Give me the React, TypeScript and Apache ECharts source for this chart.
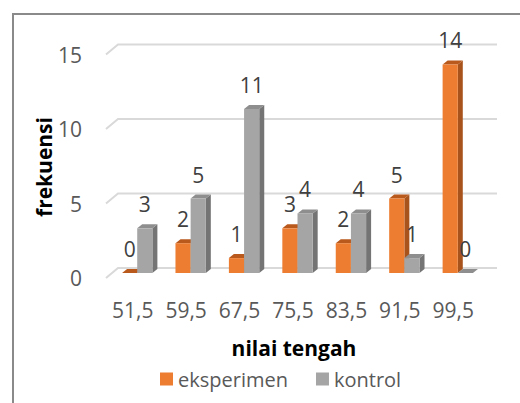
import React, { useEffect, useRef } from "react";
import * as echarts from "echarts";

const categories = ["51,5", "59,5", "67,5", "75,5", "83,5", "91,5", "99,5"];
const eksperimen = [0, 2, 1, 3, 2, 5, 14];
const kontrol = [3, 5, 11, 4, 4, 1, 0];
const yTicks = [0, 5, 10, 15];
const seriesNames = ["eksperimen", "kontrol"];

const FONT = "Open Sans";

export default function App() {
  const ref = useRef<HTMLDivElement>(null);
  useEffect(() => {
    if (!ref.current) return;
    const chart = echarts.init(ref.current, null, { renderer: "svg" });

    const DX = 12; // depth of the back wall
    const DY = 10;
    const BAR_OFF_X = 4.5; // bars sit midway in depth
    const BAR_OFF_Y = 5;
    const SIDE_X = 5;
    const SIDE_Y = 4;

    const makeBarRender = (which: number, front: string, side: string, topc: string) =>
      (params: any, api: any) => {
        const idx = api.value(0);
        const v = api.value(1);
        const base = api.coord([idx, 0]);
        const top = api.coord([idx, v]);
        const band = api.size([1, 0])[0];
        const w = band * 0.284;
        const cx = base[0] + BAR_OFF_X;
        const x0 = which === 0 ? cx - w : cx;
        const yb = base[1] - BAR_OFF_Y;
        const yt = top[1] - BAR_OFF_Y;
        return {
          type: "group",
          children: [
            {
              type: "polygon",
              shape: { points: [[x0 + w, yt], [x0 + w + SIDE_X, yt - SIDE_Y], [x0 + w + SIDE_X, yb - SIDE_Y], [x0 + w, yb]] },
              style: { fill: side },
            },
            {
              type: "polygon",
              shape: { points: [[x0, yt], [x0 + SIDE_X, yt - SIDE_Y], [x0 + w + SIDE_X, yt - SIDE_Y], [x0 + w, yt]] },
              style: { fill: topc },
            },
            {
              type: "rect",
              shape: { x: x0, y: yt, width: w, height: Math.max(yb - yt, 0) },
              style: { fill: front },
            },
            {
              type: "text",
              x: x0 + w / 2,
              y: yt - 24,
              style: {
                text: String(v),
                fill: "#404040",
                font: `21px "${FONT}"`,
                align: "center",
                verticalAlign: "middle",
              },
            },
          ],
        };
      };

    chart.setOption({
      animation: false,
      backgroundColor: "#ffffff",
      grid: { left: 106, right: 40, top: 54.5, bottom: 125, containLabel: false },
      xAxis: {
        type: "category",
        data: categories,
        axisLine: { show: false },
        axisTick: { show: false },
        axisLabel: { color: "#595959", fontFamily: FONT, fontSize: 21, margin: 21, interval: 0, hideOverlap: false },
        splitLine: { show: false },
      },
      yAxis: {
        type: "value",
        min: 0,
        max: 15,
        interval: 5,
        axisLine: { show: false },
        axisTick: { show: false },
        splitLine: { show: false },
        axisLabel: { color: "#595959", fontFamily: FONT, fontSize: 21, margin: 24 },
      },
      legend: {
        data: seriesNames,
        left: 160,
        top: 369,
        padding: 0,
        icon: "rect",
        itemWidth: 13,
        itemHeight: 13,
        itemGap: 28,
        textStyle: { color: "#595959", fontFamily: FONT, fontSize: 20 },
      },
      graphic: [
        {
          type: "rect",
          shape: { x: 13, y: 14, width: 600, height: 500 },
          style: { fill: "none", stroke: "#8a8a8a", lineWidth: 2 },
          z: -1,
        },
        {
          type: "text",
          x: 43.5,
          y: 167,
          rotation: Math.PI / 2,
          style: {
            text: "frekuensi",
            fill: "#000000",
            font: `bold 21px "${FONT}"`,
            align: "center",
            verticalAlign: "middle",
          },
        },
        {
          type: "text",
          x: 294,
          y: 348,
          style: {
            text: "nilai tengah",
            fill: "#000000",
            font: `bold 21px "${FONT}"`,
            align: "center",
            verticalAlign: "middle",
          },
        },
      ],
      series: [
        {
          type: "custom",
          name: "grid",
          silent: true,
          z: 1,
          data: yTicks.map((t) => [0, t]),
          renderItem: (params: any, api: any) => {
            const cs = params.coordSys;
            const y = api.coord([0, api.value(1)])[1];
            return {
              type: "group",
              children: [
                {
                  type: "polyline",
                  shape: { points: [[cs.x, y], [cs.x + DX, y - DY], [cs.x + DX + 379, y - DY]] },
                  style: { stroke: "#d9d9d9", lineWidth: 2, fill: "none" },
                },
              ],
            };
          },
        },
        {
          type: "custom",
          name: seriesNames[0],
          z: 2,
          itemStyle: { color: "#ED7D31" },
          data: eksperimen.map((v, i) => [i, v]),
          renderItem: makeBarRender(0, "#ED7D31", "#A9531C", "#B9591C"),
        },
        {
          type: "custom",
          name: seriesNames[1],
          z: 3,
          itemStyle: { color: "#A5A5A5" },
          data: kontrol.map((v, i) => [i, v]),
          renderItem: makeBarRender(1, "#A5A5A5", "#747474", "#8E8E8E"),
        },
      ],
    });
    return () => chart.dispose();
  }, []);

  return (
    <div
      ref={ref}
      style={{ position: "fixed", left: 0, top: 0, width: 520, height: 403 }}
    />
  );
}
